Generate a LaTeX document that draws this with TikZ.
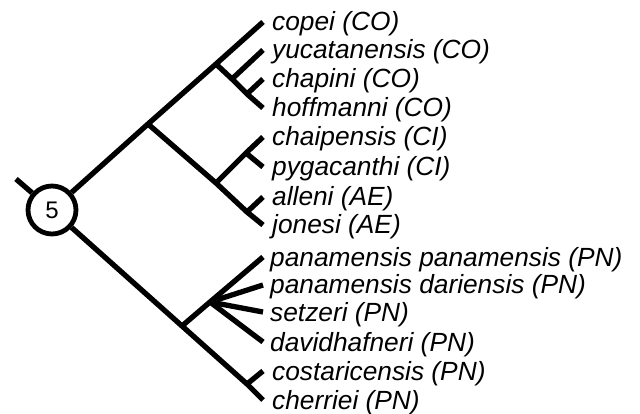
\documentclass[tikz,border=0pt]{standalone}
\usepackage{fontspec}
\setmainfont{Liberation Sans}
\begin{document}
\begin{tikzpicture}[x=1pt,y=-1pt,
  br/.style={line width=5.3pt},
  lab/.style={anchor=base west, inner sep=0pt, font=\fontsize{26.3}{26.3}\selectfont\itshape}]
\useasboundingbox (0,0) rectangle (640,414);
% root
\node[circle, draw, line width=4.8pt, minimum size=48pt, inner sep=0pt,
      font=\fontsize{24}{24}\selectfont] (root) at (52,210) {5};
\coordinate (stem) at (16,179);
% internal nodes
\coordinate (n1) at (148,124);
\coordinate (n2) at (216,64);
\coordinate (n3) at (232,79);
\coordinate (n4) at (247,94);
\coordinate (n5) at (216,183);
\coordinate (n6) at (246,153);
\coordinate (n7) at (247,212);
\coordinate (n8) at (182,326);
\coordinate (n9) at (210,302);
\coordinate (n10) at (247,384);
% tips
\coordinate (t1) at (263,22);
\coordinate (t2) at (263,50);
\coordinate (t3) at (263,79);
\coordinate (t4) at (263,108);
\coordinate (t5) at (263,137);
\coordinate (t6) at (263,167);
\coordinate (t7) at (263,197);
\coordinate (t8) at (263,225);
\coordinate (t9) at (263,257);
\coordinate (t10) at (263,285);
\coordinate (t11) at (263,312);
\coordinate (t12) at (263,342);
\coordinate (t13) at (263,371);
\coordinate (t14) at (263,400);
% branches
\draw[br] (stem) -- (root);
\draw[br] (root) -- (n1) -- (n2) -- (t1);
\draw[br] (n2) -- (n3) -- (n4) -- (t4);
\draw[br] (n3) -- (t2);
\draw[br] (n4) -- (t3);
\draw[br] (n1) -- (n5) -- (n7) -- (t8);
\draw[br] (n5) -- (n6) -- (t5);
\draw[br] (n6) -- (t6);
\draw[br] (n7) -- (t7);
\draw[br] (root) -- (n8) -- (n10) -- (t14);
\draw[br] (n8) -- (n9) -- (t9);
\draw[br] (n9) -- (t10);
\draw[br] (n9) -- (t11);
\draw[br] (n9) -- (t12);
\draw[br] (n10) -- (t13);
% labels
\node[lab] (l1) at ([xshift=9pt,yshift=-9pt]t1) {copei (CO)};
\node[lab] (l2) at ([xshift=9pt,yshift=-9pt]t2) {yucatanensis (CO)};
\node[lab] (l3) at ([xshift=9pt,yshift=-9pt]t3) {chapini (CO)};
\node[lab] (l4) at ([xshift=9pt,yshift=-9pt]t4) {hoffmanni (CO)};
\node[lab] (l5) at ([xshift=9pt,yshift=-9pt]t5) {chaipensis (CI)};
\node[lab] (l6) at ([xshift=9pt,yshift=-9pt]t6) {pygacanthi (CI)};
\node[lab] (l7) at ([xshift=9pt,yshift=-9pt]t7) {alleni (AE)};
\node[lab] (l8) at ([xshift=9pt,yshift=-9pt]t8) {jonesi (AE)};
\node[lab] (l9) at ([xshift=7pt,yshift=-9pt]t9) {panamensis panamensis (PN)};
\node[lab] (l10) at ([xshift=7pt,yshift=-9pt]t10) {panamensis dariensis (PN)};
\node[lab] (l11) at ([xshift=7pt,yshift=-9pt]t11) {setzeri (PN)};
\node[lab] (l12) at ([xshift=7pt,yshift=-9pt]t12) {davidhafneri (PN)};
\node[lab] (l13) at ([xshift=9pt,yshift=-9pt]t13) {costaricensis (PN)};
\node[lab] (l14) at ([xshift=9pt,yshift=-9pt]t14) {cherriei (PN)};
\end{tikzpicture}
\end{document}
